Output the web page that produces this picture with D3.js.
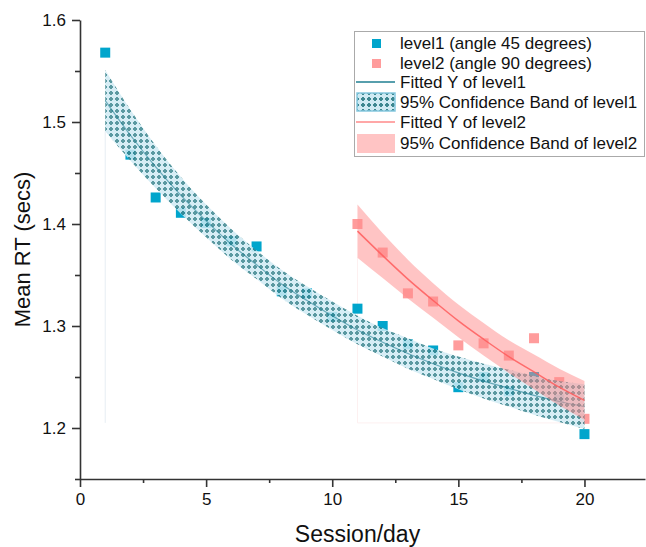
<!DOCTYPE html>
<html>
<head>
<meta charset="utf-8">
<script src="https://cdn.jsdelivr.net/npm/d3@7"></script>
<style>
  body { margin: 0; background: #fff; }
  svg { display: block; font-family: "Liberation Sans", Arial, Helvetica, sans-serif; }
</style>
</head>
<body>
<div id="chart"></div>
<script>
// session numbers
var sessions1 = [1, 2, 3, 4, 5, 6, 7, 8, 9, 10, 11, 12, 13, 14, 15, 16, 17, 18, 19, 20];
var sessions2 = [11, 12, 13, 14, 15, 16, 17, 18, 19, 20];

// observed mean RT
var level1RT = [1.568, 1.468, 1.426, 1.411, 1.401, 1.383, 1.378, 1.334, 1.332, 1.309,
                1.317, 1.300, 1.282, 1.276, 1.240, 1.250, 1.236, 1.250, 1.228, 1.194];
var level2RT = [1.400, 1.372, 1.332, 1.324, 1.281, 1.283, 1.271, 1.288, 1.245, 1.209];

// fitted curves and 95% bands
var fit1   = [1.521, 1.487, 1.456, 1.428, 1.403, 1.380, 1.360, 1.341, 1.325, 1.310,
              1.296, 1.284, 1.273, 1.263, 1.254, 1.246, 1.239, 1.232, 1.226, 1.221];
var lower1 = [1.491, 1.462, 1.435, 1.410, 1.387, 1.365, 1.346, 1.327, 1.311, 1.296,
              1.282, 1.270, 1.258, 1.248, 1.238, 1.229, 1.221, 1.213, 1.206, 1.199];
var upper1 = [1.551, 1.512, 1.477, 1.446, 1.419, 1.395, 1.374, 1.355, 1.339, 1.324,
              1.310, 1.298, 1.288, 1.278, 1.270, 1.263, 1.257, 1.251, 1.246, 1.243];
var fit2   = [1.393, 1.369, 1.346, 1.325, 1.305, 1.287, 1.270, 1.255, 1.240, 1.227];
var lower2 = [1.367, 1.347, 1.327, 1.308, 1.289, 1.271, 1.254, 1.238, 1.222, 1.208];
var upper2 = [1.419, 1.391, 1.365, 1.342, 1.321, 1.303, 1.286, 1.272, 1.258, 1.246];
var bandBase = 1.205;

var xTicks = [0, 5, 10, 15, 20];
var yTicks = [1.2, 1.3, 1.4, 1.5, 1.6];

var legendLabels = [
  'level1 (angle 45 degrees)',
  'level2 (angle 90 degrees)',
  'Fitted Y of level1',
  '95% Confidence Band of level1',
  'Fitted Y of level2',
  '95% Confidence Band of level2'
];

var W = 646, H = 547;
var margin = {top: 20, right: 1, bottom: 68, left: 80};

var blue = '#00a5cc', red = '#ff7b7b';

var x = d3.scaleLinear().domain([0, 22.4]).range([margin.left, W - margin.right]);
var y = d3.scaleLinear().domain([1.15, 1.6]).range([H - margin.bottom, margin.top]);

var svg = d3.select('#chart').append('svg').attr('width', W).attr('height', H);

var defs = svg.append('defs');
var pat = defs.append('pattern').attr('id', 'dots')
  .attr('patternUnits', 'userSpaceOnUse').attr('width', 6).attr('height', 6);
pat.append('rect').attr('width', 6).attr('height', 6).attr('fill', '#cfeaf3');
pat.append('rect').attr('x', 1).attr('y', 2).attr('width', 4).attr('height', 2).attr('fill', '#3d8790');
pat.append('rect').attr('x', 2).attr('y', 1).attr('width', 2).attr('height', 4).attr('fill', '#3d8790');

function rows(xs, a, b, c) {
  return xs.map(function(s, i) { return {x: s, lo: a[i], hi: b[i], fit: c ? c[i] : null}; });
}
var band1 = rows(sessions1, lower1, upper1, fit1);
var band2 = rows(sessions2, lower2, upper2, fit2);

var area = d3.area().curve(d3.curveMonotoneX)
  .x(function(d) { return x(d.x); })
  .y0(function(d) { return y(d.lo); })
  .y1(function(d) { return y(d.hi); });
var line = d3.line().curve(d3.curveMonotoneX)
  .x(function(d) { return x(d.x); })
  .y(function(d) { return y(d.fit); });

// faint drop outlines of the bands
svg.append('line')
  .attr('x1', x(sessions1[0])).attr('x2', x(sessions1[0]))
  .attr('y1', y(lower1[0])).attr('y2', y(bandBase))
  .attr('stroke', '#e6eef3').attr('stroke-width', 1);
svg.append('path')
  .attr('d', 'M' + x(sessions2[0]) + ',' + y(lower2[0]) + 'V' + y(bandBase) + 'H' + x(sessions2[sessions2.length - 1]))
  .attr('fill', 'none').attr('stroke', '#fdf0f0').attr('stroke-width', 1);

// points
var sq = 10;
svg.append('g').selectAll('rect')
  .data(sessions1.map(function(s, i) { return [s, level1RT[i]]; }))
  .join('rect')
  .attr('x', function(d) { return x(d[0]) - sq / 2; })
  .attr('y', function(d) { return y(d[1]) - sq / 2; })
  .attr('width', sq).attr('height', sq)
  .attr('fill', blue);

svg.append('g').selectAll('rect')
  .data(sessions2.map(function(s, i) { return [s, level2RT[i]]; }))
  .join('rect')
  .attr('x', function(d) { return x(d[0]) - sq / 2; })
  .attr('y', function(d) { return y(d[1]) - sq / 2; })
  .attr('width', sq).attr('height', sq)
  .attr('fill', red).attr('fill-opacity', 0.75);

// bands and fitted lines
svg.append('path').datum(band1).attr('d', area)
  .attr('fill', 'url(#dots)').attr('fill-opacity', 0.85);
svg.append('path').datum(band1).attr('d', line)
  .attr('fill', 'none').attr('stroke', '#1f7f92').attr('stroke-width', 1.2).attr('stroke-opacity', 0.6);

svg.append('path').datum(band2).attr('d', area)
  .attr('fill', '#ff8a8a').attr('fill-opacity', 0.5);
svg.append('path').datum(band2).attr('d', line)
  .attr('fill', 'none').attr('stroke', '#ff5c5c').attr('stroke-width', 1.5).attr('stroke-opacity', 0.85);

// axes
var axisColor = '#333';
var xAxis = svg.append('g').attr('transform', 'translate(0,' + y(1.15) + ')')
  .call(d3.axisBottom(x).tickValues(xTicks).tickSize(8).tickSizeOuter(0).tickPadding(6));
var xMinor = svg.append('g').attr('transform', 'translate(0,' + y(1.15) + ')')
  .call(d3.axisBottom(x).tickValues([2.5, 7.5, 12.5, 17.5]).tickSize(4).tickSizeOuter(0).tickFormat(''));
xMinor.select('.domain').remove();

var yAxis = svg.append('g').attr('transform', 'translate(' + x(0) + ',0)')
  .call(d3.axisLeft(y).tickValues(yTicks).tickSize(8).tickSizeOuter(0).tickPadding(6).tickFormat(d3.format('.1f')));
var yMinor = svg.append('g').attr('transform', 'translate(' + x(0) + ',0)')
  .call(d3.axisLeft(y).tickValues([1.15, 1.25, 1.35, 1.45, 1.55]).tickSize(5).tickSizeOuter(0).tickFormat(''));
yMinor.select('.domain').remove();

[xAxis, xMinor, yAxis, yMinor].forEach(function(g) {
  g.selectAll('.domain, line').attr('stroke', axisColor).attr('stroke-width', 1.6);
  g.selectAll('text').attr('fill', '#111').style('font-size', '17px')
    .style('font-family', '"Liberation Sans", Arial, sans-serif');
});

svg.append('text')
  .attr('x', (x(0) + x(22.4)) / 2 - 5).attr('y', 542)
  .attr('text-anchor', 'middle').attr('fill', '#111')
  .style('font-size', '23px').text('Session/day');
svg.append('text')
  .attr('transform', 'translate(30,' + y(1.375) + ') rotate(-90)')
  .attr('text-anchor', 'middle').attr('fill', '#111')
  .style('font-size', '22px').text('Mean RT (secs)');

// legend
var lg = svg.append('g');
lg.append('rect').attr('x', 354.5).attr('y', 31.5).attr('width', 290).attr('height', 125)
  .attr('fill', '#fff').attr('stroke', '#aaa').attr('stroke-width', 1);
var rowY = [43, 63, 82, 102, 122, 143];
lg.append('rect').attr('x', 372).attr('y', rowY[0] - 4).attr('width', 9).attr('height', 9).attr('fill', blue);
lg.append('rect').attr('x', 372).attr('y', rowY[1] - 4).attr('width', 9).attr('height', 9).attr('fill', red).attr('fill-opacity', 0.75);
lg.append('line').attr('x1', 356).attr('x2', 395).attr('y1', rowY[2]).attr('y2', rowY[2])
  .attr('stroke', '#1f7f92').attr('stroke-width', 1.5);
lg.append('rect').attr('x', 357).attr('y', rowY[3] - 9).attr('width', 38).attr('height', 18)
  .attr('fill', 'url(#dots)').attr('stroke', '#86c9e0').attr('stroke-width', 1.5);
lg.append('line').attr('x1', 356).attr('x2', 395).attr('y1', rowY[4]).attr('y2', rowY[4])
  .attr('stroke', '#ff8a8a').attr('stroke-width', 1.5);
lg.append('rect').attr('x', 357).attr('y', rowY[5] - 9).attr('width', 38).attr('height', 19)
  .attr('fill', '#ff8a8a').attr('fill-opacity', 0.5);
lg.selectAll('text.lab').data(legendLabels).join('text').attr('class', 'lab')
  .attr('x', 400).attr('y', function(d, i) { return rowY[i] + 6; })
  .attr('fill', '#111').style('font-size', '17px')
  .text(function(d) { return d; });
</script>
</body>
</html>
